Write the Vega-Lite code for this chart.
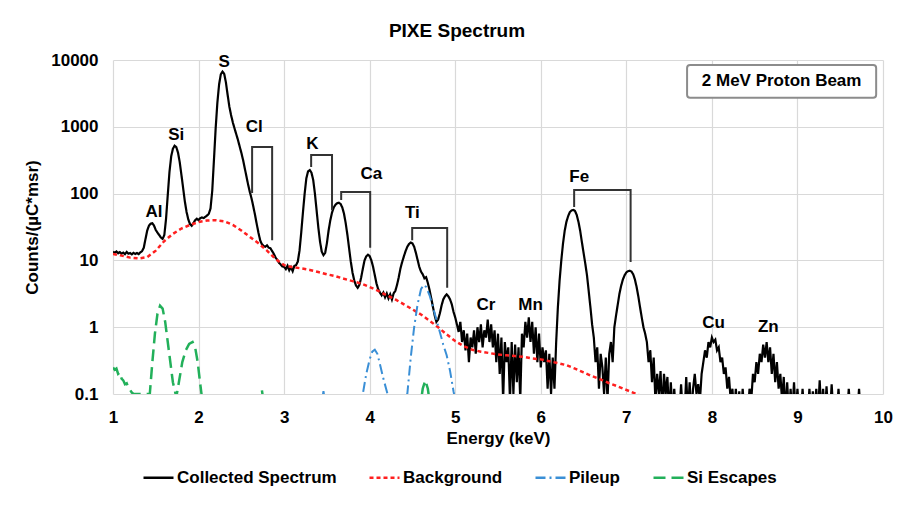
{
  "$schema": "https://vega.github.io/schema/vega-lite/v6.json",
  "width": 770,
  "height": 334,
  "autosize": {"type": "none"},
  "padding": {"left": 113, "top": 60, "right": 32, "bottom": 114},
  "background": "white",
  "title": {
    "text": "PIXE Spectrum",
    "font": "Liberation Sans",
    "fontSize": 19,
    "fontWeight": "bold",
    "color": "#000",
    "dx": -41,
    "offset": 10
  },
  "datasets": {
    "spec": [
      {"E":1.00,"c":13.5},{"E":1.02,"c":13.0},{"E":1.04,"c":13.6},{"E":1.06,"c":12.8},{"E":1.08,"c":13.3},
      {"E":1.10,"c":12.6},{"E":1.12,"c":13.1},{"E":1.14,"c":12.4},{"E":1.16,"c":13.4},{"E":1.18,"c":12.6},
      {"E":1.20,"c":12.9},{"E":1.22,"c":12.3},{"E":1.24,"c":13.0},{"E":1.26,"c":12.5},{"E":1.28,"c":12.9},
      {"E":1.30,"c":12.4},{"E":1.32,"c":13.2},{"E":1.34,"c":13.8},{"E":1.36,"c":15.5},{"E":1.38,"c":21},
      {"E":1.40,"c":28},{"E":1.42,"c":33},{"E":1.44,"c":35.5},{"E":1.46,"c":36},{"E":1.48,"c":33},
      {"E":1.50,"c":28.5},{"E":1.52,"c":26},{"E":1.54,"c":24},{"E":1.56,"c":22},{"E":1.58,"c":21},
      {"E":1.60,"c":24},{"E":1.62,"c":42},{"E":1.64,"c":95},{"E":1.66,"c":210},{"E":1.68,"c":360},
      {"E":1.70,"c":470},{"E":1.72,"c":520},{"E":1.74,"c":495},{"E":1.76,"c":410},{"E":1.78,"c":295},
      {"E":1.80,"c":190},{"E":1.82,"c":120},{"E":1.84,"c":76},{"E":1.86,"c":53},{"E":1.88,"c":41},
      {"E":1.90,"c":35},{"E":1.92,"c":33},{"E":1.94,"c":36},{"E":1.96,"c":40},{"E":1.98,"c":42},
      {"E":2.00,"c":40},{"E":2.02,"c":43},{"E":2.04,"c":44},{"E":2.06,"c":43},{"E":2.08,"c":45},
      {"E":2.10,"c":47},{"E":2.12,"c":50},{"E":2.14,"c":60},{"E":2.16,"c":110},{"E":2.18,"c":320},
      {"E":2.20,"c":950},{"E":2.22,"c":2300},{"E":2.24,"c":4300},{"E":2.26,"c":6100},{"E":2.28,"c":6700},
      {"E":2.30,"c":6200},{"E":2.32,"c":4600},{"E":2.34,"c":3000},{"E":2.36,"c":2000},{"E":2.38,"c":1500},
      {"E":2.40,"c":1170},{"E":2.42,"c":950},{"E":2.44,"c":780},{"E":2.46,"c":640},{"E":2.48,"c":510},
      {"E":2.50,"c":410},{"E":2.52,"c":320},{"E":2.54,"c":240},{"E":2.56,"c":180},{"E":2.58,"c":135},
      {"E":2.60,"c":105},{"E":2.62,"c":84},{"E":2.64,"c":64},{"E":2.66,"c":48},{"E":2.68,"c":35},
      {"E":2.70,"c":26},{"E":2.72,"c":20},{"E":2.74,"c":17.5},{"E":2.76,"c":16.5},{"E":2.78,"c":16},
      {"E":2.80,"c":16.8},{"E":2.82,"c":15.5},{"E":2.84,"c":15.2},{"E":2.86,"c":13.8},{"E":2.88,"c":12.5},
      {"E":2.90,"c":11},{"E":2.92,"c":10.2},{"E":2.94,"c":9.2},{"E":2.96,"c":8.7},{"E":2.98,"c":8.1},
      {"E":3.00,"c":8},{"E":3.02,"c":7.4},{"E":3.04,"c":8.3},{"E":3.06,"c":7.1},{"E":3.08,"c":7.9},
      {"E":3.10,"c":6.9},{"E":3.12,"c":8.3},{"E":3.14,"c":8.5},{"E":3.16,"c":9.6},{"E":3.18,"c":14},
      {"E":3.20,"c":26},{"E":3.22,"c":52},{"E":3.24,"c":100},{"E":3.26,"c":170},{"E":3.28,"c":215},
      {"E":3.30,"c":225},{"E":3.32,"c":205},{"E":3.34,"c":160},{"E":3.36,"c":100},{"E":3.38,"c":56},
      {"E":3.40,"c":31},{"E":3.42,"c":19},{"E":3.44,"c":13.5},{"E":3.46,"c":12},{"E":3.48,"c":13},
      {"E":3.50,"c":18},{"E":3.52,"c":28},{"E":3.54,"c":40},{"E":3.56,"c":52},{"E":3.58,"c":62},
      {"E":3.60,"c":68},{"E":3.62,"c":72},{"E":3.64,"c":73},{"E":3.66,"c":70},{"E":3.68,"c":62},
      {"E":3.70,"c":50},{"E":3.72,"c":36},{"E":3.74,"c":24},{"E":3.76,"c":15},{"E":3.78,"c":9.5},
      {"E":3.80,"c":6.5},{"E":3.82,"c":5},{"E":3.84,"c":4.2},{"E":3.86,"c":3.9},{"E":3.88,"c":4.3},
      {"E":3.90,"c":5.5},{"E":3.92,"c":7.5},{"E":3.94,"c":10},{"E":3.96,"c":11.5},{"E":3.98,"c":12.2},
      {"E":4.00,"c":11.6},{"E":4.02,"c":10},{"E":4.04,"c":8},{"E":4.06,"c":6},{"E":4.08,"c":4.5},
      {"E":4.10,"c":3.7},{"E":4.12,"c":3.3},{"E":4.14,"c":3.0},{"E":4.16,"c":3.3},{"E":4.18,"c":2.8},
      {"E":4.20,"c":3.2},{"E":4.22,"c":2.7},{"E":4.24,"c":3.1},{"E":4.26,"c":2.6},{"E":4.28,"c":3.2},
      {"E":4.30,"c":3.5},{"E":4.32,"c":4.3},{"E":4.34,"c":5.6},{"E":4.36,"c":7.6},{"E":4.38,"c":9.5},
      {"E":4.40,"c":11.5},{"E":4.42,"c":13.8},{"E":4.44,"c":16},{"E":4.46,"c":17.6},{"E":4.48,"c":18.5},
      {"E":4.50,"c":18},{"E":4.52,"c":16},{"E":4.54,"c":13},{"E":4.56,"c":10.2},{"E":4.58,"c":8},
      {"E":4.60,"c":6.8},{"E":4.62,"c":6.2},{"E":4.64,"c":5.4},{"E":4.66,"c":5.6},{"E":4.68,"c":4.6},
      {"E":4.70,"c":3.6},{"E":4.72,"c":2.7},{"E":4.74,"c":2.0},{"E":4.76,"c":1.5},{"E":4.78,"c":1.2},
      {"E":4.80,"c":1.3},{"E":4.82,"c":1.6},{"E":4.84,"c":2.1},{"E":4.86,"c":2.6},{"E":4.88,"c":2.9},
      {"E":4.90,"c":3.1},{"E":4.92,"c":2.9},{"E":4.94,"c":2.6},{"E":4.96,"c":2.2},{"E":4.98,"c":1.7},
      {"E":5.00,"c":1.4},{"E":5.02,"c":1.1},{"E":5.04,"c":0.85},{"E":5.06,"c":1.2},{"E":5.08,"c":0.6},
      {"E":5.10,"c":0.9},{"E":5.12,"c":0.45},{"E":5.14,"c":0.8},{"E":5.16,"c":0.3},{"E":5.18,"c":0.7},
      {"E":5.20,"c":0.5},{"E":5.22,"c":0.9},{"E":5.24,"c":0.4},{"E":5.26,"c":1.0},{"E":5.28,"c":0.6},
      {"E":5.30,"c":1.1},{"E":5.32,"c":0.5},{"E":5.34,"c":0.9},{"E":5.36,"c":0.7},{"E":5.38,"c":1.3},
      {"E":5.40,"c":0.6},{"E":5.42,"c":1.1},{"E":5.44,"c":0.5},{"E":5.46,"c":0.9},{"E":5.48,"c":0.3},
      {"E":5.50,"c":0.8},{"E":5.52,"c":0.2},{"E":5.54,"c":0.7},{"E":5.56,"c":0.08},{"E":5.58,"c":0.6},
      {"E":5.60,"c":0.3},{"E":5.62,"c":0.5},{"E":5.64,"c":0.08},{"E":5.66,"c":0.6},{"E":5.68,"c":0.1},
      {"E":5.70,"c":0.55},{"E":5.72,"c":0.15},{"E":5.74,"c":0.5},{"E":5.76,"c":0.08},{"E":5.78,"c":0.8},
      {"E":5.80,"c":0.5},{"E":5.82,"c":1.2},{"E":5.84,"c":0.7},{"E":5.86,"c":1.4},{"E":5.88,"c":0.6},
      {"E":5.90,"c":1.2},{"E":5.92,"c":0.4},{"E":5.94,"c":1.0},{"E":5.96,"c":0.3},{"E":5.98,"c":0.8},
      {"E":6.00,"c":0.25},{"E":6.02,"c":0.5},{"E":6.04,"c":0.3},{"E":6.06,"c":0.45},{"E":6.08,"c":0.12},
      {"E":6.10,"c":0.4},{"E":6.12,"c":0.1},{"E":6.14,"c":0.35},{"E":6.16,"c":0.12},{"E":6.18,"c":0.6},
      {"E":6.20,"c":2.0},{"E":6.22,"c":5},{"E":6.24,"c":10},{"E":6.26,"c":18},{"E":6.28,"c":28},
      {"E":6.30,"c":38},{"E":6.32,"c":46},{"E":6.34,"c":53},{"E":6.36,"c":56},{"E":6.38,"c":57},
      {"E":6.40,"c":55},{"E":6.42,"c":48},{"E":6.44,"c":38},{"E":6.46,"c":28},{"E":6.48,"c":19},
      {"E":6.50,"c":13},{"E":6.52,"c":9},{"E":6.54,"c":6},{"E":6.56,"c":3.5},{"E":6.58,"c":2},
      {"E":6.60,"c":1.1},{"E":6.62,"c":0.7},{"E":6.64,"c":0.3},{"E":6.66,"c":0.5},{"E":6.68,"c":0.12},
      {"E":6.70,"c":0.4},{"E":6.72,"c":0.25},{"E":6.74,"c":0.1},{"E":6.76,"c":0.35},{"E":6.78,"c":0.08},
      {"E":6.80,"c":0.4},{"E":6.82,"c":0.6},{"E":6.84,"c":0.3},{"E":6.86,"c":1.0},{"E":6.88,"c":1.5},
      {"E":6.90,"c":2.2},{"E":6.92,"c":3.2},{"E":6.94,"c":4.2},{"E":6.96,"c":5.2},{"E":6.98,"c":6.0},
      {"E":7.00,"c":6.6},{"E":7.02,"c":6.9},{"E":7.04,"c":7.0},{"E":7.06,"c":6.8},{"E":7.08,"c":6.2},
      {"E":7.10,"c":5.2},{"E":7.12,"c":4.0},{"E":7.14,"c":2.9},{"E":7.16,"c":2.0},{"E":7.18,"c":1.4},
      {"E":7.20,"c":1.0},{"E":7.22,"c":0.8},{"E":7.24,"c":0.6},{"E":7.26,"c":0.3},{"E":7.28,"c":0.45},
      {"E":7.30,"c":0.15},{"E":7.32,"c":0.35},{"E":7.34,"c":0.08},{"E":7.36,"c":0.2},{"E":7.38,"c":0.1},
      {"E":7.40,"c":0.22},{"E":7.42,"c":0.05},{"E":7.44,"c":0.2},{"E":7.46,"c":0.1},{"E":7.48,"c":0.18},
      {"E":7.50,"c":0.05},{"E":7.52,"c":0.15},{"E":7.54,"c":0.05},{"E":7.56,"c":0.12},{"E":7.58,"c":0.05},
      {"E":7.60,"c":0.05},{"E":7.62,"c":0.05},{"E":7.64,"c":0.14},{"E":7.66,"c":0.05},{"E":7.68,"c":0.05},
      {"E":7.70,"c":0.18},{"E":7.72,"c":0.05},{"E":7.74,"c":0.15},{"E":7.76,"c":0.05},{"E":7.78,"c":0.12},
      {"E":7.80,"c":0.2},{"E":7.82,"c":0.1},{"E":7.84,"c":0.14},{"E":7.86,"c":0.08},{"E":7.88,"c":0.2},
      {"E":7.90,"c":0.3},{"E":7.92,"c":0.45},{"E":7.94,"c":0.35},{"E":7.96,"c":0.6},{"E":7.98,"c":0.5},
      {"E":8.00,"c":0.7},{"E":8.02,"c":0.6},{"E":8.04,"c":0.65},{"E":8.06,"c":0.45},{"E":8.08,"c":0.5},
      {"E":8.10,"c":0.3},{"E":8.12,"c":0.35},{"E":8.14,"c":0.2},{"E":8.16,"c":0.25},{"E":8.18,"c":0.12},
      {"E":8.20,"c":0.18},{"E":8.22,"c":0.08},{"E":8.24,"c":0.12},{"E":8.26,"c":0.05},{"E":8.28,"c":0.12},
      {"E":8.30,"c":0.05},{"E":8.32,"c":0.11},{"E":8.34,"c":0.05},{"E":8.36,"c":0.12},{"E":8.38,"c":0.05},
      {"E":8.40,"c":0.1},{"E":8.42,"c":0.05},{"E":8.44,"c":0.12},{"E":8.46,"c":0.08},{"E":8.48,"c":0.2},
      {"E":8.50,"c":0.15},{"E":8.52,"c":0.3},{"E":8.54,"c":0.2},{"E":8.56,"c":0.4},{"E":8.58,"c":0.3},
      {"E":8.60,"c":0.55},{"E":8.62,"c":0.35},{"E":8.64,"c":0.6},{"E":8.66,"c":0.3},{"E":8.68,"c":0.5},
      {"E":8.70,"c":0.2},{"E":8.72,"c":0.4},{"E":8.74,"c":0.15},{"E":8.76,"c":0.3},{"E":8.78,"c":0.12},
      {"E":8.80,"c":0.2},{"E":8.82,"c":0.08},{"E":8.84,"c":0.18},{"E":8.86,"c":0.05},{"E":8.88,"c":0.15},
      {"E":8.90,"c":0.05},{"E":8.92,"c":0.12},{"E":8.94,"c":0.05},{"E":8.96,"c":0.15},{"E":8.98,"c":0.05},
      {"E":9.00,"c":0.12},{"E":9.02,"c":0.05},{"E":9.04,"c":0.05},{"E":9.06,"c":0.12},{"E":9.08,"c":0.05},
      {"E":9.10,"c":0.05},{"E":9.12,"c":0.05},{"E":9.14,"c":0.12},{"E":9.16,"c":0.05},{"E":9.18,"c":0.11},
      {"E":9.20,"c":0.05},{"E":9.22,"c":0.12},{"E":9.24,"c":0.05},{"E":9.26,"c":0.16},{"E":9.28,"c":0.05},
      {"E":9.30,"c":0.12},{"E":9.32,"c":0.05},{"E":9.34,"c":0.13},{"E":9.36,"c":0.05},{"E":9.38,"c":0.05},
      {"E":9.40,"c":0.14},{"E":9.42,"c":0.05},{"E":9.44,"c":0.05},{"E":9.46,"c":0.05},{"E":9.48,"c":0.12},
      {"E":9.50,"c":0.05},{"E":9.52,"c":0.05},{"E":9.54,"c":0.05},{"E":9.56,"c":0.05},{"E":9.58,"c":0.05},
      {"E":9.60,"c":0.12},{"E":9.62,"c":0.05},{"E":9.64,"c":0.05},{"E":9.66,"c":0.05},{"E":9.68,"c":0.05},
      {"E":9.70,"c":0.05},{"E":9.72,"c":0.12},{"E":9.74,"c":0.05}
    ],
    "bg": [
      {"E":1.0,"c":12.5},{"E":1.1,"c":11.8},{"E":1.2,"c":11.0},{"E":1.3,"c":10.7},{"E":1.4,"c":11.2},
      {"E":1.5,"c":14},{"E":1.6,"c":19.5},{"E":1.7,"c":25},{"E":1.8,"c":30},{"E":1.9,"c":34},
      {"E":2.0,"c":37.5},{"E":2.1,"c":39.5},{"E":2.2,"c":40},{"E":2.3,"c":38.5},{"E":2.4,"c":34},
      {"E":2.5,"c":28},{"E":2.6,"c":22.5},{"E":2.7,"c":18},{"E":2.8,"c":14},{"E":2.9,"c":10.5},
      {"E":3.0,"c":8.5},{"E":3.1,"c":7.9},{"E":3.2,"c":7.6},{"E":3.3,"c":7.2},{"E":3.4,"c":6.7},
      {"E":3.5,"c":6.2},{"E":3.6,"c":5.8},{"E":3.7,"c":5.3},{"E":3.8,"c":4.9},{"E":3.9,"c":4.5},
      {"E":4.0,"c":4.0},{"E":4.1,"c":3.5},{"E":4.2,"c":3.0},{"E":4.3,"c":2.6},{"E":4.4,"c":2.2},
      {"E":4.5,"c":1.85},{"E":4.6,"c":1.55},{"E":4.7,"c":1.25},{"E":4.8,"c":1.0},{"E":4.9,"c":0.78},
      {"E":5.0,"c":0.62},{"E":5.1,"c":0.52},{"E":5.2,"c":0.46},{"E":5.3,"c":0.43},{"E":5.4,"c":0.41},
      {"E":5.5,"c":0.39},{"E":5.6,"c":0.38},{"E":5.7,"c":0.37},{"E":5.8,"c":0.36},{"E":5.9,"c":0.34},
      {"E":6.0,"c":0.33},{"E":6.1,"c":0.31},{"E":6.2,"c":0.29},{"E":6.3,"c":0.27},{"E":6.4,"c":0.24},
      {"E":6.5,"c":0.21},{"E":6.6,"c":0.185},{"E":6.7,"c":0.165},{"E":6.8,"c":0.145},{"E":6.9,"c":0.13},
      {"E":7.0,"c":0.115},{"E":7.1,"c":0.102},{"E":7.15,"c":0.096}
    ],
    "pile": [
      {"E":3.42,"c":0.05},{"E":3.46,"c":0.11},{"E":3.50,"c":0.05},{"E":3.86,"c":0.05},{"E":3.90,"c":0.08},
      {"E":3.92,"c":0.1},{"E":3.96,"c":0.2},{"E":4.00,"c":0.33},{"E":4.03,"c":0.43},{"E":4.06,"c":0.46},
      {"E":4.09,"c":0.4},{"E":4.12,"c":0.28},{"E":4.16,"c":0.17},{"E":4.20,"c":0.11},{"E":4.24,"c":0.07},
      {"E":4.30,"c":0.05},{"E":4.40,"c":0.05},{"E":4.44,"c":0.1},{"E":4.48,"c":0.35},{"E":4.52,"c":1.0},
      {"E":4.56,"c":2.2},{"E":4.60,"c":3.7},{"E":4.63,"c":4.3},{"E":4.66,"c":4.0},{"E":4.70,"c":3.0},
      {"E":4.74,"c":2.0},{"E":4.78,"c":1.3},{"E":4.82,"c":0.85},{"E":4.86,"c":0.55},{"E":4.90,"c":0.38},
      {"E":4.94,"c":0.22},{"E":4.98,"c":0.11},{"E":5.02,"c":0.06}
    ],
    "esc": [
      {"E":1.00,"c":0.25},{"E":1.02,"c":0.23},{"E":1.04,"c":0.24},{"E":1.06,"c":0.2},{"E":1.08,"c":0.21},
      {"E":1.10,"c":0.17},{"E":1.12,"c":0.16},{"E":1.14,"c":0.14},{"E":1.16,"c":0.145},{"E":1.18,"c":0.125},
      {"E":1.20,"c":0.115},{"E":1.22,"c":0.105},{"E":1.24,"c":0.1},{"E":1.30,"c":0.1},{"E":1.36,"c":0.1},
      {"E":1.43,"c":0.1},{"E":1.46,"c":0.3},{"E":1.49,"c":0.8},{"E":1.52,"c":1.6},{"E":1.55,"c":2.1},
      {"E":1.58,"c":1.9},{"E":1.61,"c":1.2},{"E":1.64,"c":0.6},{"E":1.67,"c":0.3},{"E":1.70,"c":0.15},
      {"E":1.74,"c":0.09},{"E":1.77,"c":0.15},{"E":1.81,"c":0.3},{"E":1.85,"c":0.45},{"E":1.89,"c":0.56},
      {"E":1.93,"c":0.6},{"E":1.96,"c":0.5},{"E":1.99,"c":0.3},{"E":2.02,"c":0.14},{"E":2.05,"c":0.07},
      {"E":2.08,"c":0.05},{"E":2.70,"c":0.05},{"E":2.74,"c":0.115},{"E":2.78,"c":0.05},{"E":4.58,"c":0.05},
      {"E":4.62,"c":0.12},{"E":4.65,"c":0.16},{"E":4.68,"c":0.12},{"E":4.72,"c":0.05}
    ],
    "brackets": [
      {"el":"Cl","i":0,"E":2.626,"c":102},{"el":"Cl","i":1,"E":2.626,"c":500},{"el":"Cl","i":2,"E":2.86,"c":500},{"el":"Cl","i":3,"E":2.86,"c":20},
      {"el":"K","i":0,"E":3.316,"c":251},{"el":"K","i":1,"E":3.316,"c":378},{"el":"K","i":2,"E":3.56,"c":378},{"el":"K","i":3,"E":3.56,"c":57},
      {"el":"Ca","i":0,"E":3.667,"c":80},{"el":"Ca","i":1,"E":3.667,"c":106},{"el":"Ca","i":2,"E":4.006,"c":106},{"el":"Ca","i":3,"E":4.006,"c":15.4},
      {"el":"Ti","i":0,"E":4.497,"c":20},{"el":"Ti","i":1,"E":4.497,"c":30.5},{"el":"Ti","i":2,"E":4.906,"c":30.5},{"el":"Ti","i":3,"E":4.906,"c":3.9},
      {"el":"Fe","i":0,"E":6.39,"c":63},{"el":"Fe","i":1,"E":6.39,"c":113},{"el":"Fe","i":2,"E":7.05,"c":113},{"el":"Fe","i":3,"E":7.05,"c":9.5}
    ],
    "labels": [
      {"t":"Al","E":1.48,"c":53},{"t":"Si","E":1.74,"c":754},{"t":"S","E":2.30,"c":9330},
      {"t":"Cl","E":2.65,"c":1000},{"t":"K","E":3.33,"c":550},{"t":"Ca","E":4.02,"c":196},
      {"t":"Ti","E":4.50,"c":51},{"t":"Cr","E":5.36,"c":2.14},{"t":"Mn","E":5.88,"c":2.14},
      {"t":"Fe","E":6.45,"c":178},{"t":"Cu","E":8.02,"c":1.16},{"t":"Zn","E":8.66,"c":1.0}
    ],
    "note": [
      {"t":"2 MeV Proton Beam","E":7.71,"E2":9.92,"c":8420,"c2":2720,"Em":8.815,"cm":4770}
    ]
  },
  "layer": [
    {
      "data": {"name": "spec"},
      "mark": {"type": "line", "strokeWidth": 2.2, "clip": true},
      "encoding": {
        "x": {
          "field": "E",
          "type": "quantitative",
          "scale": {"domain": [1, 10], "nice": false, "zero": false},
          "axis": {"title": "Energy (keV)", "values": [1,2,3,4,5,6,7,8,9,10], "format": "d", "labelFlush": false, "labelPadding": 15, "titlePadding": 5}
        },
        "y": {
          "field": "c",
          "type": "quantitative",
          "scale": {"type": "log", "domain": [0.1, 10000], "nice": false},
          "axis": {"title": "Counts/(µC*msr)", "values": [0.1,1,10,100,1000,10000], "format": "~g", "labelFlush": false, "labelPadding": 15, "titlePadding": 9}
        },
        "color": {
          "datum": "Collected Spectrum",
          "type": "nominal",
          "scale": {
            "domain": ["Collected Spectrum", "Background", "Pileup", "Si Escapes"],
            "range": ["#000000", "#ff1f1f", "#3a8fd6", "#22b05a"]
          },
          "legend": {"title": null, "orient": "none", "legendX": 29, "legendY": 401, "direction": "horizontal"}
        },
        "strokeDash": {
          "datum": "Collected Spectrum",
          "type": "nominal",
          "scale": {
            "domain": ["Collected Spectrum", "Background", "Pileup", "Si Escapes"],
            "range": [[1, 0], [4, 3], [10, 4, 2, 4], [12, 6]]
          },
          "legend": {"title": null, "orient": "none", "legendX": 29, "legendY": 401, "direction": "horizontal"}
        }
      }
    },
    {
      "data": {"name": "bg"},
      "mark": {"type": "line", "strokeWidth": 2.5, "clip": true},
      "encoding": {
        "x": {"field": "E", "type": "quantitative"},
        "y": {"field": "c", "type": "quantitative"},
        "color": {"datum": "Background", "type": "nominal"},
        "strokeDash": {"datum": "Background", "type": "nominal"}
      }
    },
    {
      "data": {"name": "pile"},
      "mark": {"type": "line", "strokeWidth": 2, "clip": true},
      "encoding": {
        "x": {"field": "E", "type": "quantitative"},
        "y": {"field": "c", "type": "quantitative"},
        "color": {"datum": "Pileup", "type": "nominal"},
        "strokeDash": {"datum": "Pileup", "type": "nominal"}
      }
    },
    {
      "data": {"name": "esc"},
      "mark": {"type": "line", "strokeWidth": 2.5, "clip": true},
      "encoding": {
        "x": {"field": "E", "type": "quantitative"},
        "y": {"field": "c", "type": "quantitative"},
        "color": {"datum": "Si Escapes", "type": "nominal"},
        "strokeDash": {"datum": "Si Escapes", "type": "nominal"}
      }
    },
    {
      "data": {"name": "brackets"},
      "mark": {"type": "line", "color": "#333333", "strokeWidth": 2},
      "encoding": {
        "x": {"field": "E", "type": "quantitative"},
        "y": {"field": "c", "type": "quantitative"},
        "detail": {"field": "el"},
        "order": {"field": "i"}
      }
    },
    {
      "data": {"name": "labels"},
      "mark": {"type": "text", "font": "Liberation Sans", "fontWeight": "bold", "fontSize": 17, "color": "#000", "baseline": "middle", "align": "center"},
      "encoding": {
        "x": {"field": "E", "type": "quantitative"},
        "y": {"field": "c", "type": "quantitative"},
        "text": {"field": "t"}
      }
    },
    {
      "data": {"name": "note"},
      "mark": {"type": "rect", "fill": "white", "stroke": "#8c8c8c", "strokeWidth": 2, "cornerRadius": 3},
      "encoding": {
        "x": {"field": "E", "type": "quantitative"},
        "x2": {"field": "E2"},
        "y": {"field": "c", "type": "quantitative"},
        "y2": {"field": "c2"}
      }
    },
    {
      "data": {"name": "note"},
      "mark": {"type": "text", "font": "Liberation Sans", "fontWeight": "bold", "fontSize": 17, "color": "#000", "baseline": "middle", "align": "center"},
      "encoding": {
        "x": {"field": "Em", "type": "quantitative"},
        "y": {"field": "cm", "type": "quantitative"},
        "text": {"field": "t"}
      }
    }
  ],
  "config": {
    "view": {"stroke": null},
    "axis": {
      "grid": true,
      "gridColor": "#d9d9d9",
      "gridWidth": 1.2,
      "domain": false,
      "ticks": false,
      "labelFont": "Liberation Sans",
      "labelFontWeight": "bold",
      "labelFontSize": 17,
      "labelColor": "#000",
      "titleFont": "Liberation Sans",
      "titleFontWeight": "bold",
      "titleFontSize": 17,
      "titleColor": "#000"
    },
    "legend": {
      "symbolType": "stroke",
      "symbolSize": 900,
      "symbolStrokeWidth": 2.5,
      "labelFont": "Liberation Sans",
      "labelFontWeight": "bold",
      "labelFontSize": 17,
      "labelColor": "#000",
      "labelOffset": 2,
      "columnPadding": 27,
      "padding": 0
    }
  }
}
